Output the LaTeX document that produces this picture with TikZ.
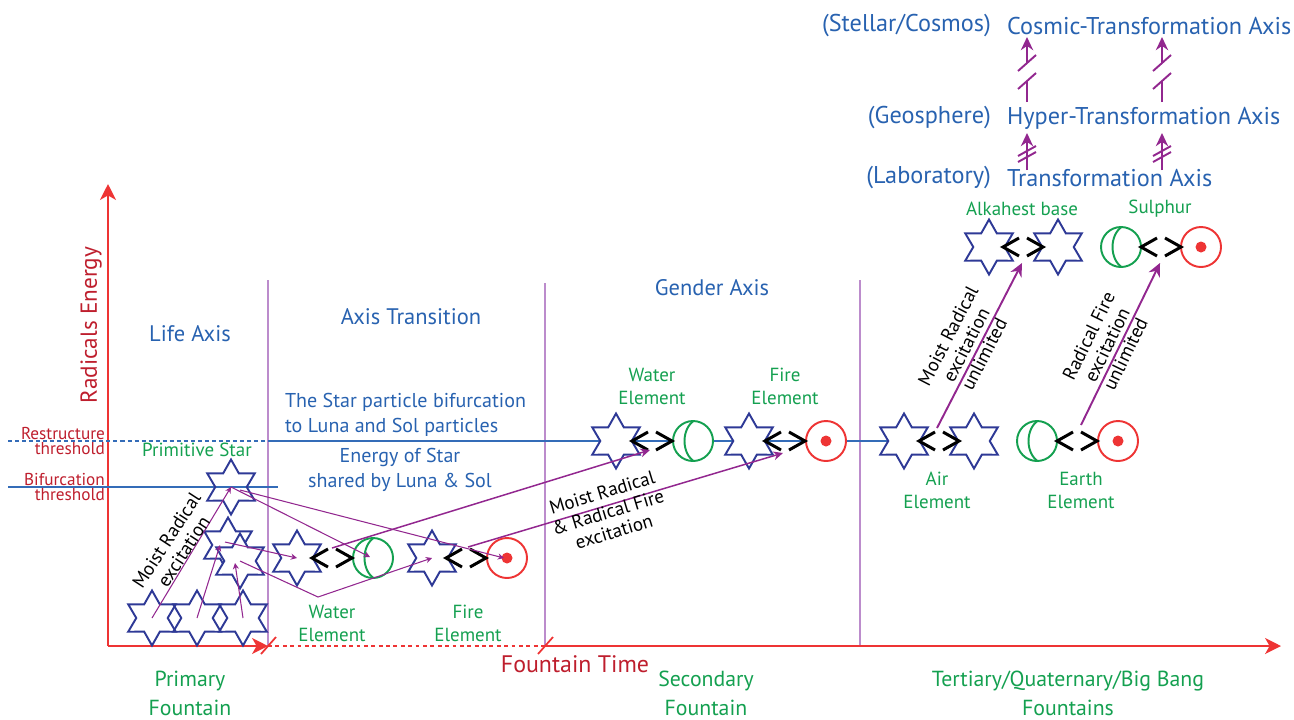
\documentclass[tikz,border=0pt]{standalone}
\usepackage{fontspec}
\setmainfont{PT Sans}
\usetikzlibrary{arrows.meta,shapes.geometric,calc}
\definecolor{axred}{RGB}{238,52,52}
\definecolor{dkred}{RGB}{190,30,45}
\definecolor{txblue}{RGB}{40,98,176}
\definecolor{stblue}{RGB}{46,57,150}
\definecolor{elgreen}{RGB}{20,160,80}
\definecolor{vio}{RGB}{146,39,143}
\definecolor{divv}{RGB}{188,140,204}
\definecolor{thblue}{RGB}{52,108,184}

\begin{document}
\begin{tikzpicture}[x=0.2mm, y=-0.2mm,
  ttl/.style={text=txblue, inner sep=1pt, font=\fontsize{12.8}{15}\selectfont},
  tax/.style={text=txblue, inner sep=1pt, font=\fontsize{13.8}{16}\selectfont},
  dsc/.style={text=txblue, inner sep=1pt, align=center, font=\fontsize{11.4}{14.4}\selectfont},
  elm/.style={text=elgreen, inner sep=1pt, align=center, font=\fontsize{10.8}{13.1}\selectfont},
  fnt/.style={text=elgreen, inner sep=1pt, align=center, font=\fontsize{12.4}{16.5}\selectfont},
  ftm/.style={text=dkred, inner sep=1pt, font=\fontsize{13.6}{16}\selectfont},
  yl/.style={text=dkred, inner sep=1pt, font=\fontsize{13.2}{15}\selectfont},
  thr/.style={text=dkred, inner sep=1pt, align=right, font=\fontsize{9.8}{8.6}\selectfont},
  lbl/.style={inner sep=1pt, align=center, font=\fontsize{10.8}{11.6}\selectfont},
  st/.style={star, star points=6, star point ratio=1.75, draw=stblue, line width=1.1pt, minimum size=11mm, inner sep=0pt},
  luna/.style={circle, draw=elgreen, fill=white, line width=1.1pt, minimum size=8mm, inner sep=0pt,
    path picture={\draw[elgreen, line width=1.1pt] ($(path picture bounding box.center)+(2,-21)$) .. controls +(-14,8) and +(-14,-8) .. ($(path picture bounding box.center)+(2,21)$);}},
  sol/.style={circle, draw=axred, fill=white, line width=1.1pt, minimum size=8mm, inner sep=0pt,
    path picture={\fill[axred] (path picture bounding box.center) circle (1.1mm);}},
  brk/.style={line width=1.7pt, line join=miter},
  pics/lr/.style={code={\draw[brk] (-4,-9) -- (-20,0) -- (-4,9) (4,-9) -- (20,0) -- (4,9);}},
  ax/.style={draw=axred, line width=1.6pt},
  axa/.style={ax, -{Stealth[length=9pt, width=9pt, inset=2.5pt]}},
  dv/.style={draw=divv, line width=0.8pt},
  thl/.style={draw=thblue, line width=0.8pt},
  pvl/.style={draw=vio, line width=1.1pt},
  pa/.style={draw=vio, line width=0.6pt, -{Stealth[length=3.5pt, width=3.5pt]}},
  pb/.style={draw=vio, line width=0.85pt, -{Stealth[length=5.5pt, width=5pt]}},
  pc/.style={pvl, -{Stealth[length=7.5pt, width=7pt]}},
]
\useasboundingbox (0,0) rectangle (1294,719);

% axes and sections
\coordinate (o) at (108,646);
\coordinate (ytop) at (108,184);
\coordinate (xb1) at (268,646);
\coordinate (xb2) at (545,646);
\coordinate (xend) at (1281,646);
\coordinate (d1) at (268,280);
\coordinate (d2) at (545,283);
\coordinate (d3) at (860,280);
\draw[dv] (d1) -- (d1 |- o);
\draw[dv] (d2) -- (d2 |- o);
\draw[dv] (d3) -- (d3 |- o);
\draw[axa] (o) -- (ytop);
\draw[axa] (o) -- (xb1);
\draw[ax, line width=1.1pt, dash pattern=on 2.2pt off 2pt] (xb1) -- (xb2);
\draw[axa] (xb2) -- (xend);
\draw[ax, line width=1pt] ($(xb1)+(-7,8)$) -- ($(xb1)+(8,-9)$);
\draw[ax, line width=1pt] ($(xb2)+(-7,8)$) -- ($(xb2)+(8,-9)$);

% thresholds
\coordinate (r0) at (8,441);
\coordinate (r1) at (268,441);
\coordinate (r2) at (904,441);
\coordinate (b0) at (8,487);
\coordinate (b1) at (278,487);
\draw[thl, dash pattern=on 2.3pt off 1.7pt] (r0) -- (r1);
\draw[thl] (r1) -- (r2);
\draw[thl] (b0) -- (b1);

% life axis stars
\node[st] (ps) at (231,487) {};
\node[st] (s1) at (152,618) {};
\node[st] (s2) at (197,618) {};
\node[st] (s3) at (243,618) {};
\node[st, fill=white] (m1) at (228,545) {};
\node[st, fill=white] (m2) at (240,561) {};

% luna and sol pairs
\node[st, fill=white] (wst1) at (297,558) {};
\node[luna] (wlu1) at (373,558) {};
\node[st, fill=white] (fst1) at (432,558) {};
\node[sol] (fso1) at (507,558) {};
\node[st, fill=white] (wst2) at (616,441) {};
\node[luna] (wlu2) at (693,441) {};
\node[st, fill=white] (fst2) at (749,441) {};
\node[sol] (fso2) at (826,441) {};
\node[st, fill=white] (ast1) at (904,441) {};
\node[st, fill=white] (ast2) at (974,441) {};
\node[luna] (elu) at (1037,441) {};
\node[sol] (eso) at (1118,441) {};
\node[st, fill=white] (kst1) at (989,247) {};
\node[st, fill=white] (kst2) at (1058,247) {};
\node[luna] (slu) at (1121,247) {};
\node[sol] (sso) at (1201,247) {};
\coordinate (lk1) at (332,558);
\coordinate (lk2) at (466,558);
\coordinate (lk3) at (652,441);
\coordinate (lk4) at (785,441);
\coordinate (lk5) at (939,441);
\coordinate (lk6) at (1077,441);
\coordinate (lk7) at (1023,247);
\coordinate (lk8) at (1161,247);
\pic at (lk1) {lr}; \pic at (lk2) {lr}; \pic at (lk3) {lr}; \pic at (lk4) {lr};
\pic at (lk5) {lr}; \pic at (lk6) {lr}; \pic at (lk7) {lr}; \pic at (lk8) {lr};

% excitation paths
\coordinate (kink) at (318,597);
\draw[pa] (s1.center) -- (ps.center);
\draw[pa] (s2.center) -- ($(m1.center)+(-8,0)$);
\draw[pa] (s3.center) -- ($(m2.center)+(-5,2)$);
\draw[pa] ($(m1.center)+(-3,-3)$) -- (wst1.center);
\draw[pa] (m2.center) -- (kink) -- (fst1.center);
\draw[pa] (ps.center) -- ($(wlu1.center)+(-3,-1)$);
\draw[pa] ($(ps.center)+(9,3)$) -- ($(fso1.center)+(-3,0)$);
\draw[pb] ($(lk1)+(0,-10)$) -- ($(lk3)+(-2,9)$);
\draw[pb] ($(lk2)+(2,-11)$) -- ($(lk4)+(-2,12)$);
\draw[pc] ($(lk5)+(-2,-13)$) -- ($(lk7)+(-1,16)$);
\draw[pc] ($(lk6)+(4,-16)$) -- ($(lk8)+(-1,16)$);

% transformation axes
\node[tax, anchor=east] (stc) at (993,26) {(Stellar/Cosmos)};
\node[tax, anchor=west] (cta) at (1005,26) {Cosmic-Transformation Axis};
\node[tax, anchor=east] (geo) at (993,118) {(Geosphere)};
\node[tax, anchor=west] (hta) at (1005,118) {Hyper-Transformation Axis};
\node[tax, anchor=east] (lab) at (993,178) {(Laboratory)};
\node[tax, anchor=west] (tra) at (1005,178) {Transformation Axis};
\coordinate (ua1) at (1027,170); \coordinate (ub1) at (1027,133);
\coordinate (uc1) at (1027,102); \coordinate (ud1) at (1027,81);
\coordinate (ue1) at (1027,63);  \coordinate (uf1) at (1027,37);
\coordinate (ua2) at (1162,170); \coordinate (ub2) at (1162,133);
\coordinate (uc2) at (1162,102); \coordinate (ud2) at (1162,81);
\coordinate (ue2) at (1162,63);  \coordinate (uf2) at (1162,37);
\draw[pc] (ua1) -- (ub1);
\draw[pc] (ua2) -- (ub2);
\draw[pvl] ($(ua1)+(-9,-8)$) -- ($(ua1)+(9,-18)$) ($(ua1)+(-9,-14)$) -- ($(ua1)+(9,-24)$);
\draw[pvl] ($(ua2)+(-9,-8)$) -- ($(ua2)+(9,-18)$) ($(ua2)+(-9,-14)$) -- ($(ua2)+(9,-24)$);
\draw[pvl] (uc1) -- (ud1);
\draw[pvl] (uc2) -- (ud2);
\draw[pc] (ue1) -- (uf1);
\draw[pc] (ue2) -- (uf2);
\draw[pvl] ($(ud1)+(-9,8)$) -- ($(ud1)+(9,-8)$) ($(ue1)+(-9,8)$) -- ($(ue1)+(9,-8)$);
\draw[pvl] ($(ud2)+(-9,8)$) -- ($(ud2)+(9,-8)$) ($(ue2)+(-9,8)$) -- ($(ue2)+(9,-8)$);

% labels
\node[ttl] (lifeax) at (190,334) {Life Axis};
\node[ttl] (transax) at (411,317) {Axis Transition};
\node[ttl] (gendax) at (712,288) {Gender Axis};
\node[dsc, align=left, anchor=west] (bifdsc) at (283,415) {The Star particle bifurcation\\to Luna and Sol particles};
\node[dsc] (endsc) at (400,470) {Energy of Star\\shared by Luna \& Sol};
\node[yl, rotate=90] (yax) at (91,325) {Radicals Energy};
\node[thr, anchor=east] (rsth) at (107,441) {Restructure\\threshold};
\node[thr, anchor=east] (bfth) at (107,487) {Bifurcation\\threshold};
\node[elm] (primst) at (197,450) {Primitive Star};
\node[lbl, rotate=57] (mrad1) at (175,546) {Moist Radical\\excitation};
\node[elm] (wel1) at (332,623) {Water\\Element};
\node[elm] (fel1) at (468,623) {Fire\\Element};
\node[elm] (wel2) at (652,386) {Water\\Element};
\node[elm] (fel2) at (785,386) {Fire\\Element};
\node[lbl, rotate=16.9] (mrad2) at (608,512) {Moist Radical\\\& Radical Fire\\excitation};
\node[elm] (airel) at (937,490) {Air\\Element};
\node[elm] (earel) at (1081,490) {Earth\\Element};
\node[elm] (alkb) at (1022,209) {Alkahest base};
\node[elm] (sulph) at (1160,209) {Sulphur};
\node[lbl, rotate=62.7] (mrad3) at (966,345) {Moist Radical\\excitation\\unlimited};
\node[lbl, rotate=64] (rfire) at (1107,345) {Radical Fire\\excitation\\unlimited};
\node[fnt] (prim) at (190,693) {Primary\\Fountain};
\node[ftm] (ftime) at (575,664) {Fountain Time};
\node[fnt] (secf) at (706,693) {Secondary\\Fountain};
\node[fnt] (terf) at (1068,693) {Tertiary/Quaternary/Big Bang\\Fountains};
\end{tikzpicture}
\end{document}
